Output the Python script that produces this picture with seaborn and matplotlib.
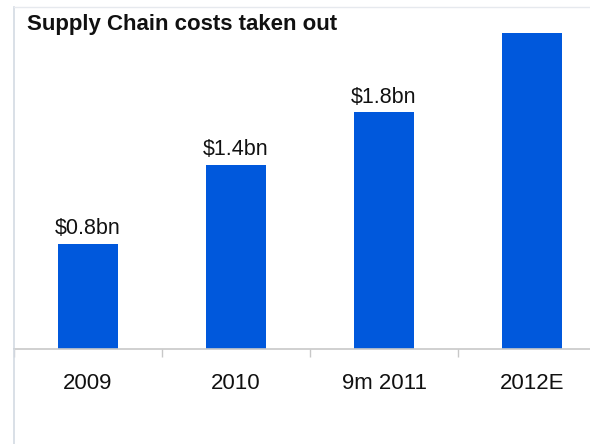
import matplotlib
matplotlib.use("Agg")
import matplotlib.pyplot as plt
from matplotlib.lines import Line2D
import seaborn as sns
import pandas as pd

# Data
categories = ["2009", "2010", "9m 2011", "2012E"]
savings_bn = [0.8, 1.4, 1.8, 2.4]
value_labels = ["$0.8bn", "$1.4bn", "$1.8bn", ""]
title = "Supply Chain costs taken out"

sns.set_theme(style="white")
plt.rcParams["font.family"] = ["Liberation Sans", "DejaVu Sans"]

BAR = "#0058DC"
FRAME = "#D3DAE3"
BASE = "#C8C8C8"

W, H = 590, 444
fig = plt.figure(figsize=(W / 100, H / 100), dpi=100)
fig.patch.set_facecolor("white")

# axes spans past the right edge so the last category is partly cropped
left, right, top, bottom = 14, 606, 7, 349
ax = fig.add_axes([left / W, 1 - bottom / H, (right - left) / W, (bottom - top) / H])

df = pd.DataFrame({"period": categories, "savings": savings_bn})
sns.barplot(data=df, x="period", y="savings", color=BAR, width=0.4,
            saturation=1, ax=ax, edgecolor="none")

ax.set_xlim(-0.5, len(categories) - 0.5)
ax.set_ylim(0, 2.6)
ax.set_xlabel("")
ax.set_ylabel("")
ax.set_yticks([])

# category labels under the baseline, separators as small ticks between groups
ax.set_xticks(range(len(categories)))
ax.set_xticklabels(categories, fontsize=16, color="#111111")
ax.tick_params(axis="x", which="major", length=0, pad=17)
ax.set_xticks([i + 0.5 for i in range(-1, len(categories))], minor=True)
ax.tick_params(axis="x", which="minor", direction="out", length=6,
               width=1, color=BASE, bottom=True)

for side in ["right"]:
    ax.spines[side].set_visible(False)
ax.spines["bottom"].set_color(BASE)
ax.spines["bottom"].set_linewidth(1.2)
ax.spines["left"].set_color(FRAME)
ax.spines["left"].set_linewidth(1.2)
ax.spines["top"].set_color("#E6E9EE")
ax.spines["top"].set_linewidth(1.0)

# value labels above the bars
for i, (v, lab) in enumerate(zip(savings_bn, value_labels)):
    if lab:
        ax.annotate(lab, (i, v), xytext=(0, 7), textcoords="offset points",
                    ha="center", va="baseline", fontsize=15.5, color="#111111")

# frame line continuing below the chart area
fig.add_artist(Line2D([left / W, left / W], [0, 1 - bottom / H],
                      transform=fig.transFigure, color=FRAME, lw=1.2))

fig.text(27 / W, 1 - 30 / H, title, fontsize=16, fontweight="bold",
         color="#111111", ha="left", va="baseline")

fig.savefig("out.png", dpi=100, facecolor="white")
